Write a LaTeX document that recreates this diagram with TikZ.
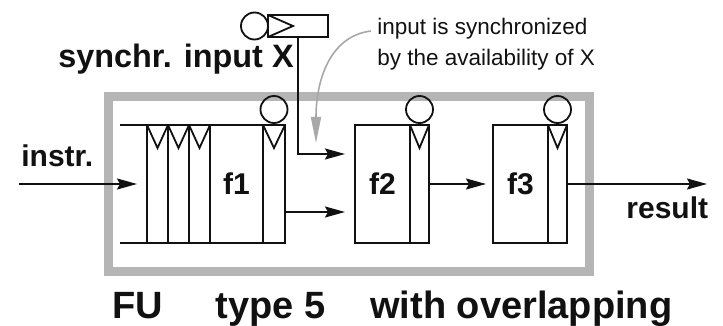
\documentclass[tikz,border=0pt]{standalone}
\usepackage{fontspec}
\setmainfont{Liberation Sans}
\usepackage{tikz}
\usetikzlibrary{arrows.meta,positioning,calc}
\definecolor{fuInk}{HTML}{111111}
\definecolor{fuFrame}{HTML}{B5B5B5}
\definecolor{fuHint}{HTML}{A8A8A8}
\tikzset{
  stagebox/.style={rectangle,draw=fuInk,line width=0.9pt,
    minimum width=#1,minimum height=59pt,inner sep=0pt,outer sep=0pt,
    font=\fontsize{15}{18}\selectfont\bfseries,text=fuInk},
  latch/.style={rectangle,draw=fuInk,line width=0.9pt,
    minimum width=#1,minimum height=59pt,inner sep=0pt,outer sep=0pt,
    path picture={\draw[fuInk,line width=0.9pt]
      (path picture bounding box.north west)
      -- ([yshift=-11.5pt]path picture bounding box.north)
      -- (path picture bounding box.north east);}},
  xreg/.style={rectangle,draw=fuInk,line width=0.9pt,
    minimum width=30pt,minimum height=11pt,inner sep=0pt,outer sep=0pt,
    path picture={\draw[fuInk,line width=0.9pt]
      (path picture bounding box.north west)
      -- ([xshift=12.5pt]path picture bounding box.west)
      -- (path picture bounding box.south west);}},
  ready/.style={circle,draw=fuInk,line width=0.9pt,
    minimum size=13.5pt,inner sep=0pt,outer sep=0pt},
  frame/.style={draw=fuFrame,line width=4.5pt},
  wire/.style={draw=fuInk,line width=0.9pt},
  arr/.style={-{Stealth[length=10pt,width=5.5pt,inset=1.5pt]},
    line width=0.9pt,draw=fuInk},
  hintarr/.style={-{Stealth[length=13pt,width=5pt,inset=0pt]},
    line width=0.8pt,draw=fuHint},
  lbl/.style={font=\fontsize{15}{18}\selectfont\bfseries,text=fuInk,inner sep=0pt},
  note/.style={font=\fontsize{11.25}{15.5}\selectfont,text=fuInk,
    align=left,inner sep=1pt},
  capt/.style={font=\fontsize{19}{23}\selectfont\bfseries,text=fuInk,inner sep=0pt},
}

\begin{document}
\begin{tikzpicture}[x=0.5pt,y=-0.5pt]
  \useasboundingbox (0,0) rectangle (723,326);
  \draw[frame] (108,97) rectangle (589,271);

  % stage 1: input latches, f1, output latch
  \node[latch=10.5pt] (l11) at (157.5,184) {};
  \node[latch=10.5pt,right=0pt of l11] (l12) {};
  \node[latch=10.5pt,right=0pt of l12] (l13) {};
  \node[stagebox=26.5pt,right=0pt of l13] (f1) {f1};
  \node[latch=11pt,right=0pt of f1] (l14) {};
  \node[ready,above=1pt of l14] (r1) {};
  \draw[wire] (l11.north west) -- ++(-13.5pt,0)
    (l11.south west) -- ++(-13.5pt,0);

  % stage 2
  \node[stagebox=27.5pt] (f2) at (382.5,184) {f2};
  \node[latch=9.5pt,right=0pt of f2] (l24) {};
  \node[ready,above=1pt of l24] (r2) {};

  % stage 3
  \node[stagebox=27.5pt] (f3) at (520.5,184) {f3};
  \node[latch=9.5pt,right=0pt of f3] (l34) {};
  \node[ready,above=1pt of l34] (r3) {};

  % synchronized input X
  \node[xreg] (xin) at (298,26) {};
  \node[ready,left=0pt of xin] (rx) {};

  \node[lbl,font=\fontsize{16.2}{19}\selectfont\bfseries,anchor=base east]
    (xlbl) at (294,68) {synchr. input X};
  \node[lbl,anchor=base west] (ilbl) at (21,167) {instr.};
  \node[lbl,anchor=base west] (rlbl) at (626,218) {result};
  \node[note,anchor=west] (note) at (375,44)
    {input is synchronized\\by the availability of X};

  \node[capt,anchor=base west] (cfu) at (112,318) {FU};
  \node[capt,anchor=base west] (ctype) at (215,318) {type 5};
  \node[capt,anchor=base west] (cover) at (370,318) {with overlapping};

  \coordinate (inp) at (19,184);
  \coordinate (outp) at (707,184);

  \draw[arr,shorten >=5pt] (inp) -- (l11.west);
  \draw[arr,shorten >=5pt] (xin.south) |- ([yshift=15pt]f2.west);
  \draw[arr,shorten >=5pt] ([yshift=-14pt]l14.east) -- ([yshift=-14pt]f2.west);
  \draw[arr,shorten >=3.5pt] (l24.east) -- (f3.west);
  \draw[arr] (l34.east) -- (outp);
  \draw[hintarr] ([shift={(-2pt,6.5pt)}]note.west)
    .. controls (330,36) and (316,80) .. (316,143);
\end{tikzpicture}
\end{document}
